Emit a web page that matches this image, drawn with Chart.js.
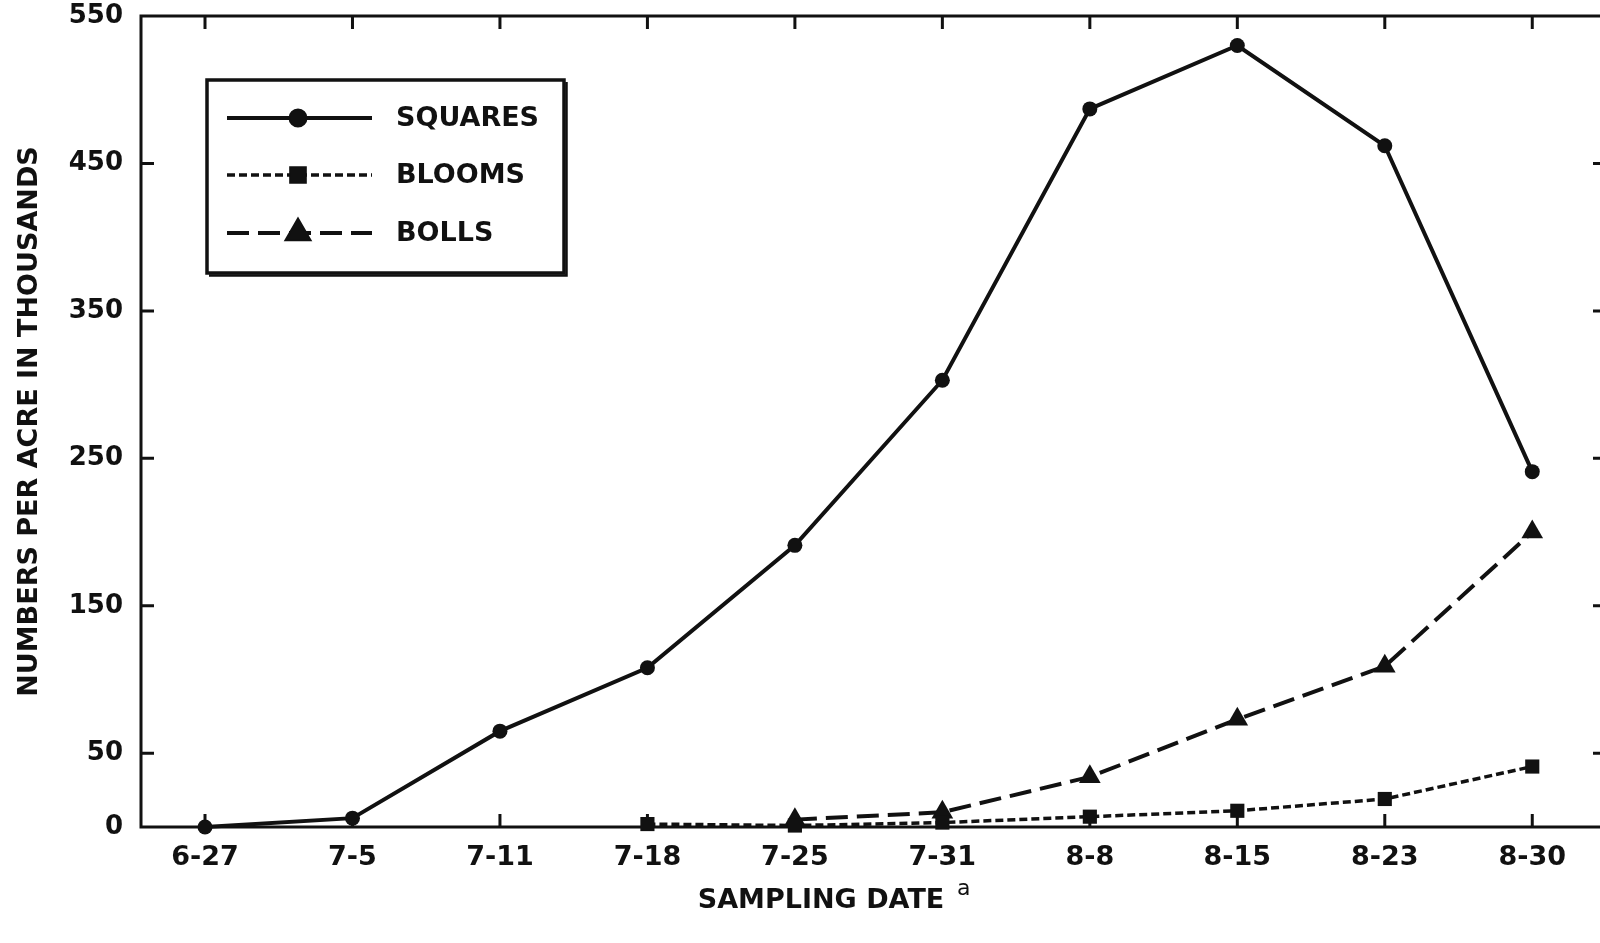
<!DOCTYPE html>
<html>
<head>
<meta charset="utf-8">
<title>Squares, blooms and bolls per acre</title>
<script src="https://cdn.jsdelivr.net/npm/chart.js@4.4.1/dist/chart.umd.min.js"></script>
<style>
  html, body { margin: 0; padding: 0; background: #fff; overflow: hidden; }
  #wrap { width: 1620px; height: 943px; }
</style>
</head>
<body>
<div id="wrap"><canvas id="fruitChart" width="1620" height="943"></canvas></div>
<script>
// sampling dates and counts (thousands per acre)
const samplingDates = ['6-27', '7-5', '7-11', '7-18', '7-25', '7-31', '8-8', '8-15', '8-23', '8-30'];
const squares = [0, 6, 65, 108, 191, 303, 487, 530, 462, 241];
const blooms = [null, null, null, 2, 1, 3, 7, 11, 19, 41];
const bolls = [null, null, null, null, 5, 10, 34, 73, 109, 200];
const yTicks = [0, 50, 150, 250, 350, 450, 550];

const INK = '#111';
const FONT = '"DejaVu Sans", "Liberation Sans", sans-serif';

function toPoints(values) {
    return values
        .map((v, i) => ({ x: i, y: v }))
        .filter(p => p.y !== null);
}

// Frame with inward tick marks on all four sides
const frameTicks = {
    id: 'frameTicks',
    beforeDatasetsDraw(chart) {
        const { ctx, chartArea: a, scales: { x, y } } = chart;
        const len = 13;
        ctx.save();
        ctx.strokeStyle = INK;
        ctx.lineWidth = 3;
        ctx.strokeRect(a.left, a.top, a.right - a.left, a.bottom - a.top);
        ctx.beginPath();
        samplingDates.forEach((d, i) => {
            const px = x.getPixelForValue(i);
            ctx.moveTo(px, a.bottom); ctx.lineTo(px, a.bottom - len);
            ctx.moveTo(px, a.top); ctx.lineTo(px, a.top + len);
        });
        yTicks.forEach(v => {
            if (v === 0 || v === 550) return;
            const py = y.getPixelForValue(v);
            ctx.moveTo(a.left, py); ctx.lineTo(a.left + len, py);
            ctx.moveTo(a.right, py); ctx.lineTo(a.right - len, py);
        });
        ctx.stroke();
        ctx.restore();
    }
};

// Boxed legend in the upper left plus the x axis title with its footnote mark
const boxLegend = {
    id: 'boxLegend',
    afterDraw(chart) {
        const { ctx } = chart;
        const box = { left: 207, top: 80, right: 564, bottom: 273 };
        const rows = [118, 175, 233];
        ctx.save();
        ctx.fillStyle = '#fff';
        ctx.fillRect(box.left, box.top, box.right - box.left, box.bottom - box.top);
        ctx.strokeStyle = INK;
        ctx.lineWidth = 3.5;
        ctx.strokeRect(box.left, box.top, box.right - box.left, box.bottom - box.top);
        ctx.lineWidth = 2.5;
        ctx.beginPath();
        ctx.moveTo(box.right + 2.5, box.top + 2); ctx.lineTo(box.right + 2.5, box.bottom + 2.5);
        ctx.lineTo(box.left + 2, box.bottom + 2.5);
        ctx.stroke();

        chart.data.datasets.forEach((ds, i) => {
            const cy = rows[i];
            ctx.strokeStyle = INK;
            ctx.lineWidth = ds.borderWidth;
            ctx.setLineDash(ds.borderDash || []);
            ctx.beginPath();
            ctx.moveTo(227, cy); ctx.lineTo(372, cy);
            ctx.stroke();
            ctx.setLineDash([]);
            Chart.helpers.drawPoint(ctx, {
                pointStyle: ds.pointStyle,
                radius: ds.pointRadius,
                borderWidth: 1
            }, 298, cy);
            ctx.fillStyle = INK;
            ctx.fill();
            ctx.font = `bold 27px ${FONT}`;
            ctx.textAlign = 'left';
            ctx.textBaseline = 'middle';
            ctx.fillText(ds.label, 396, cy + 1);
        });

        ctx.fillStyle = INK;
        ctx.font = `bold 27px ${FONT}`;
        ctx.textAlign = 'center';
        ctx.textBaseline = 'alphabetic';
        ctx.fillText('SAMPLING DATE', 821, 908);
        ctx.font = `22px ${FONT}`;
        ctx.textAlign = 'left';
        ctx.fillText('a', 957, 895);
        ctx.restore();
    }
};

const ctx = document.getElementById('fruitChart').getContext('2d');
new Chart(ctx, {
    type: 'line',
    data: {
        datasets: [
            {
                label: 'SQUARES',
                data: toPoints(squares),
                borderColor: INK,
                backgroundColor: INK,
                borderWidth: 4,
                pointStyle: 'circle',
                pointRadius: 7.5,
                pointBorderWidth: 0,
                clip: false
            },
            {
                label: 'BLOOMS',
                data: toPoints(blooms),
                borderColor: INK,
                backgroundColor: INK,
                borderWidth: 3.5,
                borderDash: [8, 4],
                pointStyle: 'rect',
                pointRadius: 10,
                pointBorderWidth: 0,
                clip: false
            },
            {
                label: 'BOLLS',
                data: toPoints(bolls),
                borderColor: INK,
                backgroundColor: INK,
                borderWidth: 4,
                borderDash: [22, 9],
                pointStyle: 'triangle',
                pointRadius: 12.5,
                pointBorderWidth: 0,
                clip: false
            }
        ]
    },
    options: {
        responsive: false,
        animation: false,
        devicePixelRatio: 1,
        layout: { padding: { top: 16, right: 14, left: 0, bottom: 0 } },
        plugins: {
            legend: { display: false },
            tooltip: { enabled: false }
        },
        scales: {
            x: {
                type: 'linear',
                min: -0.434,
                max: 9.5,
                afterBuildTicks: axis => {
                    axis.ticks = samplingDates.map((d, i) => ({ value: i }));
                },
                afterFit: axis => {
                    axis.height = 116;
                    axis.paddingLeft = 0;
                    axis.paddingRight = 0;
                },
                grid: { display: false, drawTicks: false },
                border: { display: false },
                ticks: {
                    color: INK,
                    padding: 15,
                    maxRotation: 0,
                    autoSkip: false,
                    font: { family: FONT, size: 27, weight: 'bold' },
                    callback: value => samplingDates[value]
                }
            },
            y: {
                min: 0,
                max: 550,
                afterBuildTicks: axis => {
                    axis.ticks = yTicks.map(v => ({ value: v }));
                },
                afterFit: axis => {
                    axis.width = 141;
                    axis.paddingTop = 0;
                    axis.paddingBottom = 0;
                },
                grid: { display: false, drawTicks: false },
                border: { display: false },
                ticks: {
                    color: INK,
                    padding: 18,
                    font: { family: FONT, size: 26, weight: 'bold' }
                },
                title: {
                    display: true,
                    text: 'NUMBERS PER ACRE IN THOUSANDS',
                    color: INK,
                    padding: { top: 14, bottom: 0 },
                    font: { family: FONT, size: 27, weight: 'bold' }
                }
            }
        }
    },
    plugins: [frameTicks, boxLegend]
});
</script>
</body>
</html>
